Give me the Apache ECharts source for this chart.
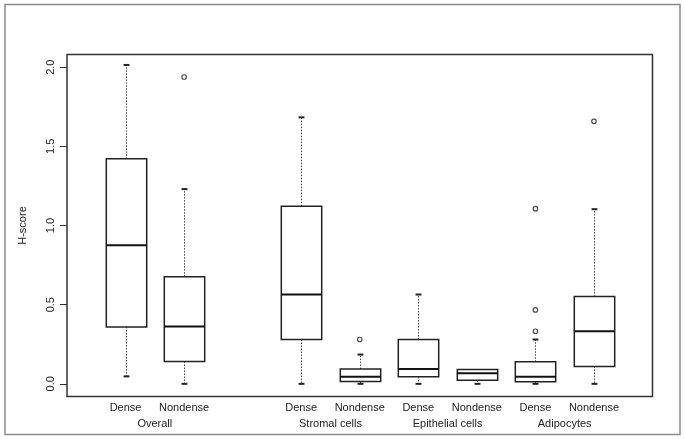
<!DOCTYPE html>
<html><head><meta charset="utf-8">
<script src="https://cdn.jsdelivr.net/npm/echarts@6/dist/echarts.min.js"></script>
<style>html,body{margin:0;padding:0;background:#fff}#c{width:685px;height:439px}</style>
</head><body><div id="c"></div>
<script>
const categories = ['Dense','Nondense','Dense','Nondense','Dense','Nondense','Dense','Nondense'];
const positions = [1,2,4,5,6,7,8,9];
const groups = ['Overall','Stromal cells','Epithelial cells','Adipocytes'];
const groupCenters = [1.5,4.5,6.5,8.5];
const whiskerLow = [0.047,0,0,0,0,0,0,0];
const q1 = [0.359,0.141,0.280,0.015,0.044,0.023,0.013,0.110];
const median = [0.875,0.362,0.564,0.044,0.093,0.067,0.044,0.332];
const q3 = [1.421,0.677,1.122,0.093,0.280,0.091,0.139,0.551];
const whiskerHigh = [2.014,1.230,1.683,0.185,0.564,0.091,0.280,1.103];
const outlierPos = [2,5,8,8,8,9];
const outlierVal = [1.938,0.280,1.106,0.467,0.332,1.658];
const yTicks = [0,0.5,1,1.5,2];

const boxData = positions.map((p,i)=>[p, whiskerLow[i], q1[i], median[i], q3[i], whiskerHigh[i]]);
const outData = outlierPos.map((p,i)=>[p, outlierVal[i]]);

const FONT = 'Liberation Sans, Arial, sans-serif';
const TXT = '#222';
const chart = echarts.init(document.getElementById('c'), null, {renderer:'canvas'});
chart.setOption({
  animation:false,
  backgroundColor:'#fff',
  graphic:[{type:'rect', shape:{x:5,y:4.5,width:675,height:430}, style:{fill:'none', stroke:'#8a8a8a', lineWidth:1.5}, silent:true}],
  grid:{left:67, top:54.5, width:585.5, height:342, show:true, borderColor:'#333', borderWidth:1.5, backgroundColor:'transparent'},
  xAxis:[{
    type:'value', min:0, max:10, gridIndex:0, position:'bottom',
    axisLine:{show:false}, axisTick:{show:false}, splitLine:{show:false},
    axisLabel:{customValues:positions, margin:6, fontFamily:FONT, fontSize:11, color:TXT,
      formatter:(v)=>{const k=positions.indexOf(v);return k>=0?categories[k]:'';}}
  },{
    type:'value', min:0, max:10, gridIndex:0, position:'bottom', offset:16,
    axisLine:{show:false}, axisTick:{show:false}, splitLine:{show:false},
    axisLabel:{customValues:groupCenters, margin:6, fontFamily:FONT, fontSize:11, color:TXT,
      formatter:(v)=>{const k=groupCenters.indexOf(v);return k>=0?groups[k]:'';}}
  }],
  yAxis:{
    type:'value', min:-0.08, max:2.08,
    name:'H-score', nameLocation:'middle', nameRotate:90, nameGap:39,
    nameTextStyle:{fontFamily:FONT, fontSize:11, color:TXT},
    axisLine:{show:false}, splitLine:{show:false},
    axisTick:{show:true, customValues:yTicks, length:7, lineStyle:{color:'#333', width:1}},
    axisLabel:{customValues:yTicks, rotate:90, margin:11, fontFamily:FONT, fontSize:11, color:TXT,
      formatter:(v)=>v.toFixed(1)}
  },
  series:[{
    type:'custom',
    data:boxData,
    encode:{x:0, y:[1,2,3,4,5]},
    renderItem:(params, api)=>{
      const x = api.value(0);
      const lo = api.coord([x, api.value(1)]);
      const b1 = api.coord([x, api.value(2)]);
      const md = api.coord([x, api.value(3)]);
      const b3 = api.coord([x, api.value(4)]);
      const hi = api.coord([x, api.value(5)]);
      const hw = api.size([0.345, 0])[0];
      const cw = api.size([0.05, 0])[0];
      const cx = Math.round(lo[0]) + 0.5;
      const dash = {stroke:'#444', lineWidth:1, lineDash:[1.5,1.5]};
      const cap = {stroke:'#222', lineWidth:2};
      const ch = [];
      if (hi[1] < b3[1] - 0.5) {
        ch.push({type:'line', shape:{x1:cx,y1:b3[1],x2:cx,y2:hi[1]}, style:dash});
        ch.push({type:'line', shape:{x1:cx-cw,y1:hi[1],x2:cx+cw,y2:hi[1]}, style:cap});
      }
      if (lo[1] > b1[1] + 0.5) {
        ch.push({type:'line', shape:{x1:cx,y1:b1[1],x2:cx,y2:lo[1]}, style:dash});
        ch.push({type:'line', shape:{x1:cx-cw,y1:lo[1],x2:cx+cw,y2:lo[1]}, style:cap});
      }
      ch.push({type:'rect', shape:{x:cx-hw, y:b3[1], width:2*hw, height:b1[1]-b3[1]}, style:{fill:'#fff', stroke:'#222', lineWidth:1.5}});
      ch.push({type:'line', shape:{x1:cx-hw,y1:md[1],x2:cx+hw,y2:md[1]}, style:{stroke:'#111', lineWidth:2}});
      return {type:'group', children:ch};
    }
  },{
    type:'scatter',
    data:outData,
    symbol:'circle', symbolSize:4.5,
    itemStyle:{color:'#fff', borderColor:'#222', borderWidth:1.2}
  }]
});
</script></body></html>
